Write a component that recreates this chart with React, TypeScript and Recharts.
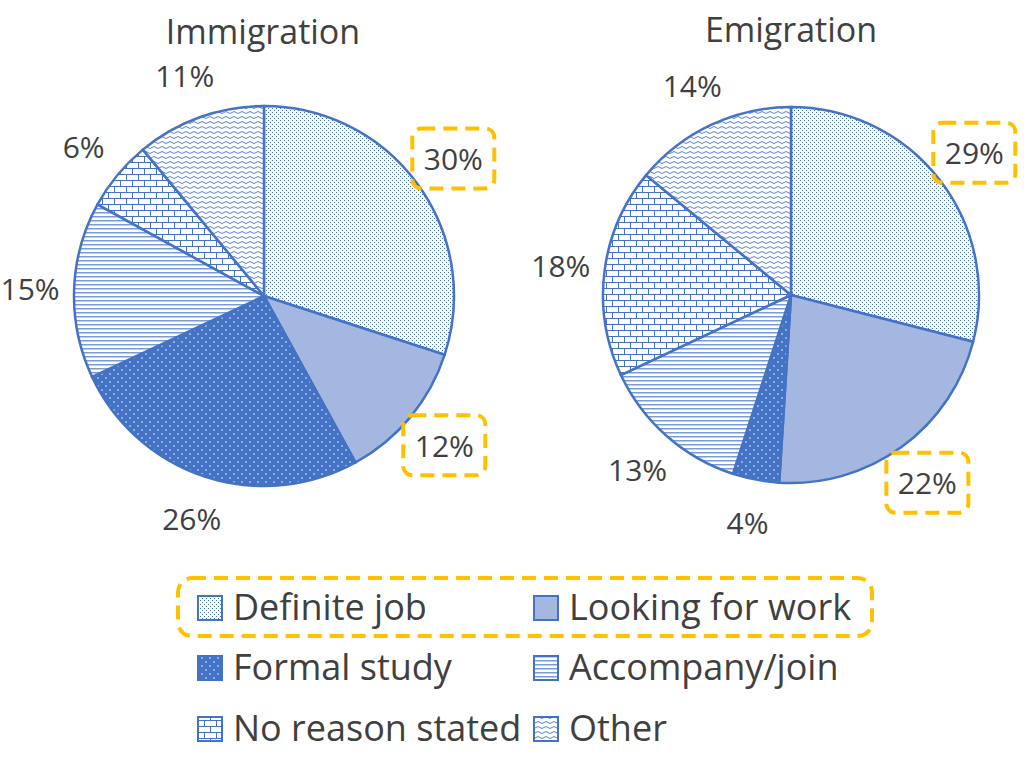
import { Cell, Pie, PieChart } from "recharts";

const categories = [
  "Definite job",
  "Looking for work",
  "Formal study",
  "Accompany/join",
  "No reason stated",
  "Other",
];
const immigrationValues = [30, 12, 26, 15, 6, 11];
const emigrationValues = [29, 22, 4, 13, 18, 14];
const highlighted = ["Definite job", "Looking for work"];

const BLUE = "#4472C4";
const TEXT = "#404040";
const GOLD = "#FFC000";
const FONT = "'Open Sans', sans-serif";
const RADIAN = Math.PI / 180;

const fills = [
  "url(#pDefinite)",
  "#A3B7E1",
  "url(#pStudy)",
  "url(#pLines)",
  "url(#pBrick)",
  "url(#pWave)",
];

const immigrationData = categories.map((name, i) => ({ name, value: immigrationValues[i] }));
const emigrationData = categories.map((name, i) => ({ name, value: emigrationValues[i] }));

const renderLabel = (props: any) => {
  const { cx, cy, midAngle, outerRadius, value } = props;
  const name = props.payload?.name ?? props.name;
  const r = outerRadius + 44;
  const x = cx + r * Math.cos(-midAngle * RADIAN);
  const y = cy + r * Math.sin(-midAngle * RADIAN);
  return (
    <g>
      {highlighted.includes(name) && (
        <rect
          x={x - 41}
          y={y - 30}
          width={82}
          height={60}
          rx={9}
          fill="none"
          stroke={GOLD}
          strokeWidth={4}
          strokeDasharray="14 8"
        />
      )}
      <text
        x={x}
        y={y}
        textAnchor="middle"
        dominantBaseline="central"
        fill={TEXT}
        fontSize={30}
        fontFamily={FONT}
      >
        {value}%
      </text>
    </g>
  );
};

const Patterns = () => (
  <defs>
    <pattern id="pDefinite" width={4} height={4} patternUnits="userSpaceOnUse">
      <rect width={4} height={4} fill="#fff" />
      <rect x={0} y={0} width={1} height={1} fill={BLUE} />
      <rect x={2} y={2} width={1} height={1} fill={BLUE} />
    </pattern>
    <pattern id="pStudy" width={8} height={8} patternUnits="userSpaceOnUse">
      <rect width={8} height={8} fill={BLUE} />
      <circle cx={2} cy={2} r={1} fill="#A9BEE6" />
      <circle cx={6} cy={6} r={1} fill="#A9BEE6" />
    </pattern>
    <pattern id="pLines" width={4} height={4} patternUnits="userSpaceOnUse">
      <rect width={4} height={4} fill="#fff" />
      <rect x={0} y={0} width={4} height={1.5} fill="#7B9AD6" />
    </pattern>
    <pattern id="pBrick" width={12} height={12} patternUnits="userSpaceOnUse">
      <rect width={12} height={12} fill="#fff" />
      <path
        d="M0 0.5 H12 M0 6.5 H12 M0.5 0 V6.5 M6.5 6.5 V12"
        stroke={BLUE}
        strokeWidth={1}
        fill="none"
      />
    </pattern>
    <pattern id="pWave" width={8} height={5} patternUnits="userSpaceOnUse">
      <rect width={8} height={5} fill="#fff" />
      <path d="M0 2.5 Q2 0.5 4 2.5 T8 2.5" stroke={BLUE} strokeWidth={0.9} fill="none" />
    </pattern>
  </defs>
);

const legendRows = [608, 668, 729];

const Legend = () => (
  <g>
    <rect
      x={178}
      y={578}
      width={694}
      height={58}
      rx={14}
      fill="none"
      stroke={GOLD}
      strokeWidth={4}
      strokeDasharray="14 8"
    />
    {categories.map((name, i) => {
      const col = i % 2;
      const cy = legendRows[Math.floor(i / 2)];
      const sx = col ? 533 : 197;
      const tx = col ? 569 : 233;
      return (
        <g key={name}>
          <rect x={sx + 1} y={cy - 12} width={24} height={24} fill={fills[i]} stroke={BLUE} strokeWidth={2} />
          <text x={tx} y={cy + 12} fill={TEXT} fontSize={36} fontFamily={FONT}>
            {name}
          </text>
        </g>
      );
    })}
  </g>
);

export default function App() {
  return (
    <div style={{ position: "absolute", left: 0, top: 0, width: 1024, height: 767, background: "#fff" }}>
      <PieChart width={1024} height={767} margin={{ top: 0, right: 0, bottom: 0, left: 0 }}>
        <Patterns />
        <text x={263} y={44} textAnchor="middle" fill={TEXT} fontSize={34} fontFamily={FONT}>
          Immigration
        </text>
        <text x={791} y={42} textAnchor="middle" fill={TEXT} fontSize={34} fontFamily={FONT}>
          Emigration
        </text>
        <Pie
          data={immigrationData}
          dataKey="value"
          nameKey="name"
          cx={264}
          cy={296}
          outerRadius={190}
          startAngle={90}
          endAngle={-270}
          stroke={BLUE}
          strokeWidth={2.5}
          label={renderLabel}
          labelLine={false}
          isAnimationActive={false}
        >
          {immigrationData.map((d, i) => (
            <Cell key={d.name} fill={fills[i]} />
          ))}
        </Pie>
        <Pie
          data={emigrationData}
          dataKey="value"
          nameKey="name"
          cx={791}
          cy={295}
          outerRadius={188}
          startAngle={90}
          endAngle={-270}
          stroke={BLUE}
          strokeWidth={2.5}
          label={renderLabel}
          labelLine={false}
          isAnimationActive={false}
        >
          {emigrationData.map((d, i) => (
            <Cell key={d.name} fill={fills[i]} />
          ))}
        </Pie>
        <Legend />
      </PieChart>
    </div>
  );
}
